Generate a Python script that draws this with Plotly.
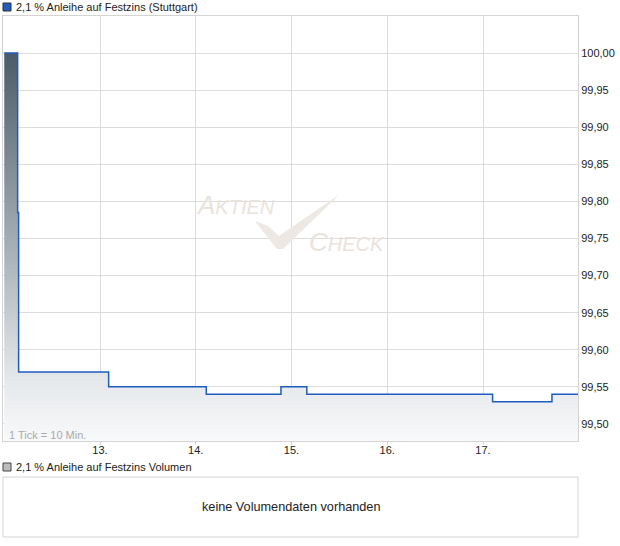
import plotly.graph_objects as go

# ---- data ----
days = [12.0, 12.14, 12.15, 13.09, 14.11, 14.89, 15.16, 17.10, 17.72, 18.0]
prices = [100.00, 99.785, 99.57, 99.55, 99.54, 99.55, 99.54, 99.53, 99.54, 99.54]
tick_days = [13, 14, 15, 16, 17]
tick_labels = ["13.", "14.", "15.", "16.", "17."]
price_ticks = [99.50, 99.55, 99.60, 99.65, 99.70, 99.75, 99.80, 99.85, 99.90, 99.95, 100.00]

title_main = "2,1 % Anleihe auf Festzins (Stuttgart)"
title_vol = "2,1 % Anleihe auf Festzins Volumen"
no_vol = "keine Volumendaten vorhanden"

W, H = 620, 546
L, R, T, B = 3, 42, 16, 105
PW, PH = W - L - R, H - T - B


def px(x):
    return (x - L) / PW


def py(y):
    return (H - B - y) / PH


FONT = "Liberation Sans, Arial, sans-serif"

fig = go.Figure()
fig.add_trace(go.Scatter(
    x=days, y=prices, mode="lines", line=dict(color="#1f5cc0", width=1.5, shape="hv"),
    fill="tozeroy",
    fillgradient=dict(type="vertical", start=99.477, stop=100.0,
                      colorscale=[[0, "#f8f9fa"], [0.15, "#e6e9ec"], [1, "#4a5c69"]]),
    hoverinfo="skip", showlegend=False,
))

fig.update_layout(
    width=W, height=H,
    margin=dict(l=L, r=R, t=T, b=B),
    paper_bgcolor="white", plot_bgcolor="white",
    separators=",.",
    font=dict(family=FONT, size=11, color="#222"),
    xaxis=dict(range=[11.987, 17.992], tickvals=tick_days, ticktext=tick_labels,
               showgrid=True, gridcolor="#dcdcdc", gridwidth=1,
               showline=True, linecolor="#d4d4d4", linewidth=1, mirror=True,
               ticks="outside", ticklen=3, tickcolor="#d4d4d4", zeroline=False,
               ticklabelstandoff=-4,
               tickfont=dict(size=11, color="#222", family=FONT)),
    yaxis=dict(range=[99.477, 100.050], side="right", tickvals=price_ticks,
               tickformat=".2f", showgrid=True, gridcolor="#dcdcdc", gridwidth=1,
               showline=True, linecolor="#d4d4d4", linewidth=1, mirror=True,
               ticks="", zeroline=False,
               tickfont=dict(size=11, color="#222", family=FONT)),
)

shapes = []
annotations = []

# top legend square + title
shapes.append(dict(type="rect", xref="paper", yref="paper",
                   x0=px(3), x1=px(11), y0=py(11), y1=py(3),
                   fillcolor="#1f5cc0", line=dict(color="#333", width=1)))
annotations.append(dict(text=title_main, xref="paper", yref="paper", x=px(14), y=py(7),
                        xanchor="left", yanchor="middle", showarrow=False,
                        font=dict(size=11, color="#222", family=FONT)))

# watermark checkmark
chk = [(255, 221), (268, 226), (279, 236), (340, 194), (283, 249), (277, 249)]
path = "M " + " L ".join(f"{px(a):.5f},{py(b):.5f}" for a, b in chk) + " Z"
shapes.append(dict(type="path", xref="paper", yref="paper", path=path,
                   fillcolor="#ede8e3", line=dict(width=0), layer="above"))
annotations.append(dict(text="A<span style='font-size:20px'>KTIEN</span>", xref="paper", yref="paper",
                        x=px(235), y=py(205), xanchor="center", yanchor="middle", showarrow=False,
                        font=dict(size=26, color="#e9e3dc", family=FONT, style="italic")))
annotations.append(dict(text="C<span style='font-size:20px'>HECK</span>", xref="paper", yref="paper",
                        x=px(347), y=py(242), xanchor="center", yanchor="middle", showarrow=False,
                        font=dict(size=26, color="#e9e3dc", family=FONT, style="italic")))

# tick note
annotations.append(dict(text="1 Tick = 10 Min.", xref="paper", yref="paper", x=px(7), y=py(435),
                        xanchor="left", yanchor="middle", showarrow=False,
                        font=dict(size=11, color="#a9a9a9", family=FONT)))

# volume panel
shapes.append(dict(type="rect", xref="paper", yref="paper",
                   x0=px(3), x1=px(11), y0=py(471), y1=py(463),
                   fillcolor="#bdbdbd", line=dict(color="#444", width=1)))
annotations.append(dict(text=title_vol, xref="paper", yref="paper", x=px(14), y=py(467),
                        xanchor="left", yanchor="middle", showarrow=False,
                        font=dict(size=11, color="#222", family=FONT)))
shapes.append(dict(type="rect", xref="paper", yref="paper",
                   x0=px(3), x1=px(578), y0=py(537), y1=py(477),
                   fillcolor="white", line=dict(color="#d4d4d4", width=1)))
annotations.append(dict(text=no_vol, xref="paper", yref="paper", x=px(291), y=py(507),
                        xanchor="center", yanchor="middle", showarrow=False,
                        font=dict(size=12.7, color="#222", family=FONT)))

fig.update_layout(shapes=shapes, annotations=annotations)
fig.write_html("out.html", config={"displayModeBar": False},
               post_script="document.body.style.margin='0';document.body.style.overflow='hidden';")
